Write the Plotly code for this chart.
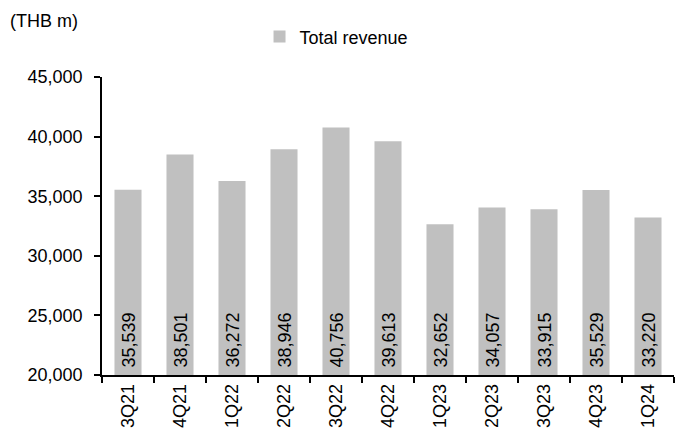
import plotly.graph_objects as go

quarters = ["3Q21", "4Q21", "1Q22", "2Q22", "3Q22", "4Q22", "1Q23", "2Q23", "3Q23", "4Q23", "1Q24"]
revenue = [35539, 38501, 36272, 38946, 40756, 39613, 32652, 34057, 33915, 35529, 33220]
y_ticks = [20000, 25000, 30000, 35000, 40000, 45000]
y_min, y_max = 20000, 45000

FONT = "Liberation Sans, Arial, sans-serif"
FS = 18

fig = go.Figure()
fig.add_trace(go.Bar(
    x=quarters, y=revenue, name="Total revenue",
    marker=dict(color="#c0c0c0", line=dict(width=0)),
    width=0.52,
))

annos = [dict(x=q, y=y_min, xref="x", yref="y", text=f"{v:,}", textangle=-90,
              xanchor="center", yanchor="bottom", yshift=5, showarrow=False,
              font=dict(size=FS, color="#000000"))
         for q, v in zip(quarters, revenue)]
annos.append(dict(text="(THB m)", xref="paper", yref="paper", x=-102/572 + 8/572,
                  y=1, yshift=56, xanchor="left", yanchor="middle", showarrow=False,
                  font=dict(size=FS)))

fig.update_layout(
    width=675, height=441,
    margin=dict(l=102, r=1, t=77, b=66),
    paper_bgcolor="white", plot_bgcolor="white",
    font=dict(family=FONT, size=FS, color="#000000"),
    showlegend=True,
    legend=dict(orientation="h", x=0.41, xanchor="center", y=1.135, yanchor="middle",
                font=dict(size=FS), bgcolor="rgba(0,0,0,0)", itemwidth=30),
    xaxis=dict(showline=True, linecolor="black", linewidth=1.5, ticks="outside",
               tickson="boundaries", ticklen=6, tickcolor="black", tickwidth=1.5,
               tickangle=-90, tickfont=dict(size=FS), showgrid=False),
    yaxis=dict(range=[y_min, y_max], tickvals=y_ticks, tickformat=",",
               showline=True, linecolor="black", linewidth=1.5, ticks="outside",
               ticklen=6, tickcolor="black", tickwidth=1.5, showgrid=False,
               zeroline=False, tickfont=dict(size=FS), ticklabelstandoff=8),
    annotations=annos,
)

fig.write_html("out.html")
